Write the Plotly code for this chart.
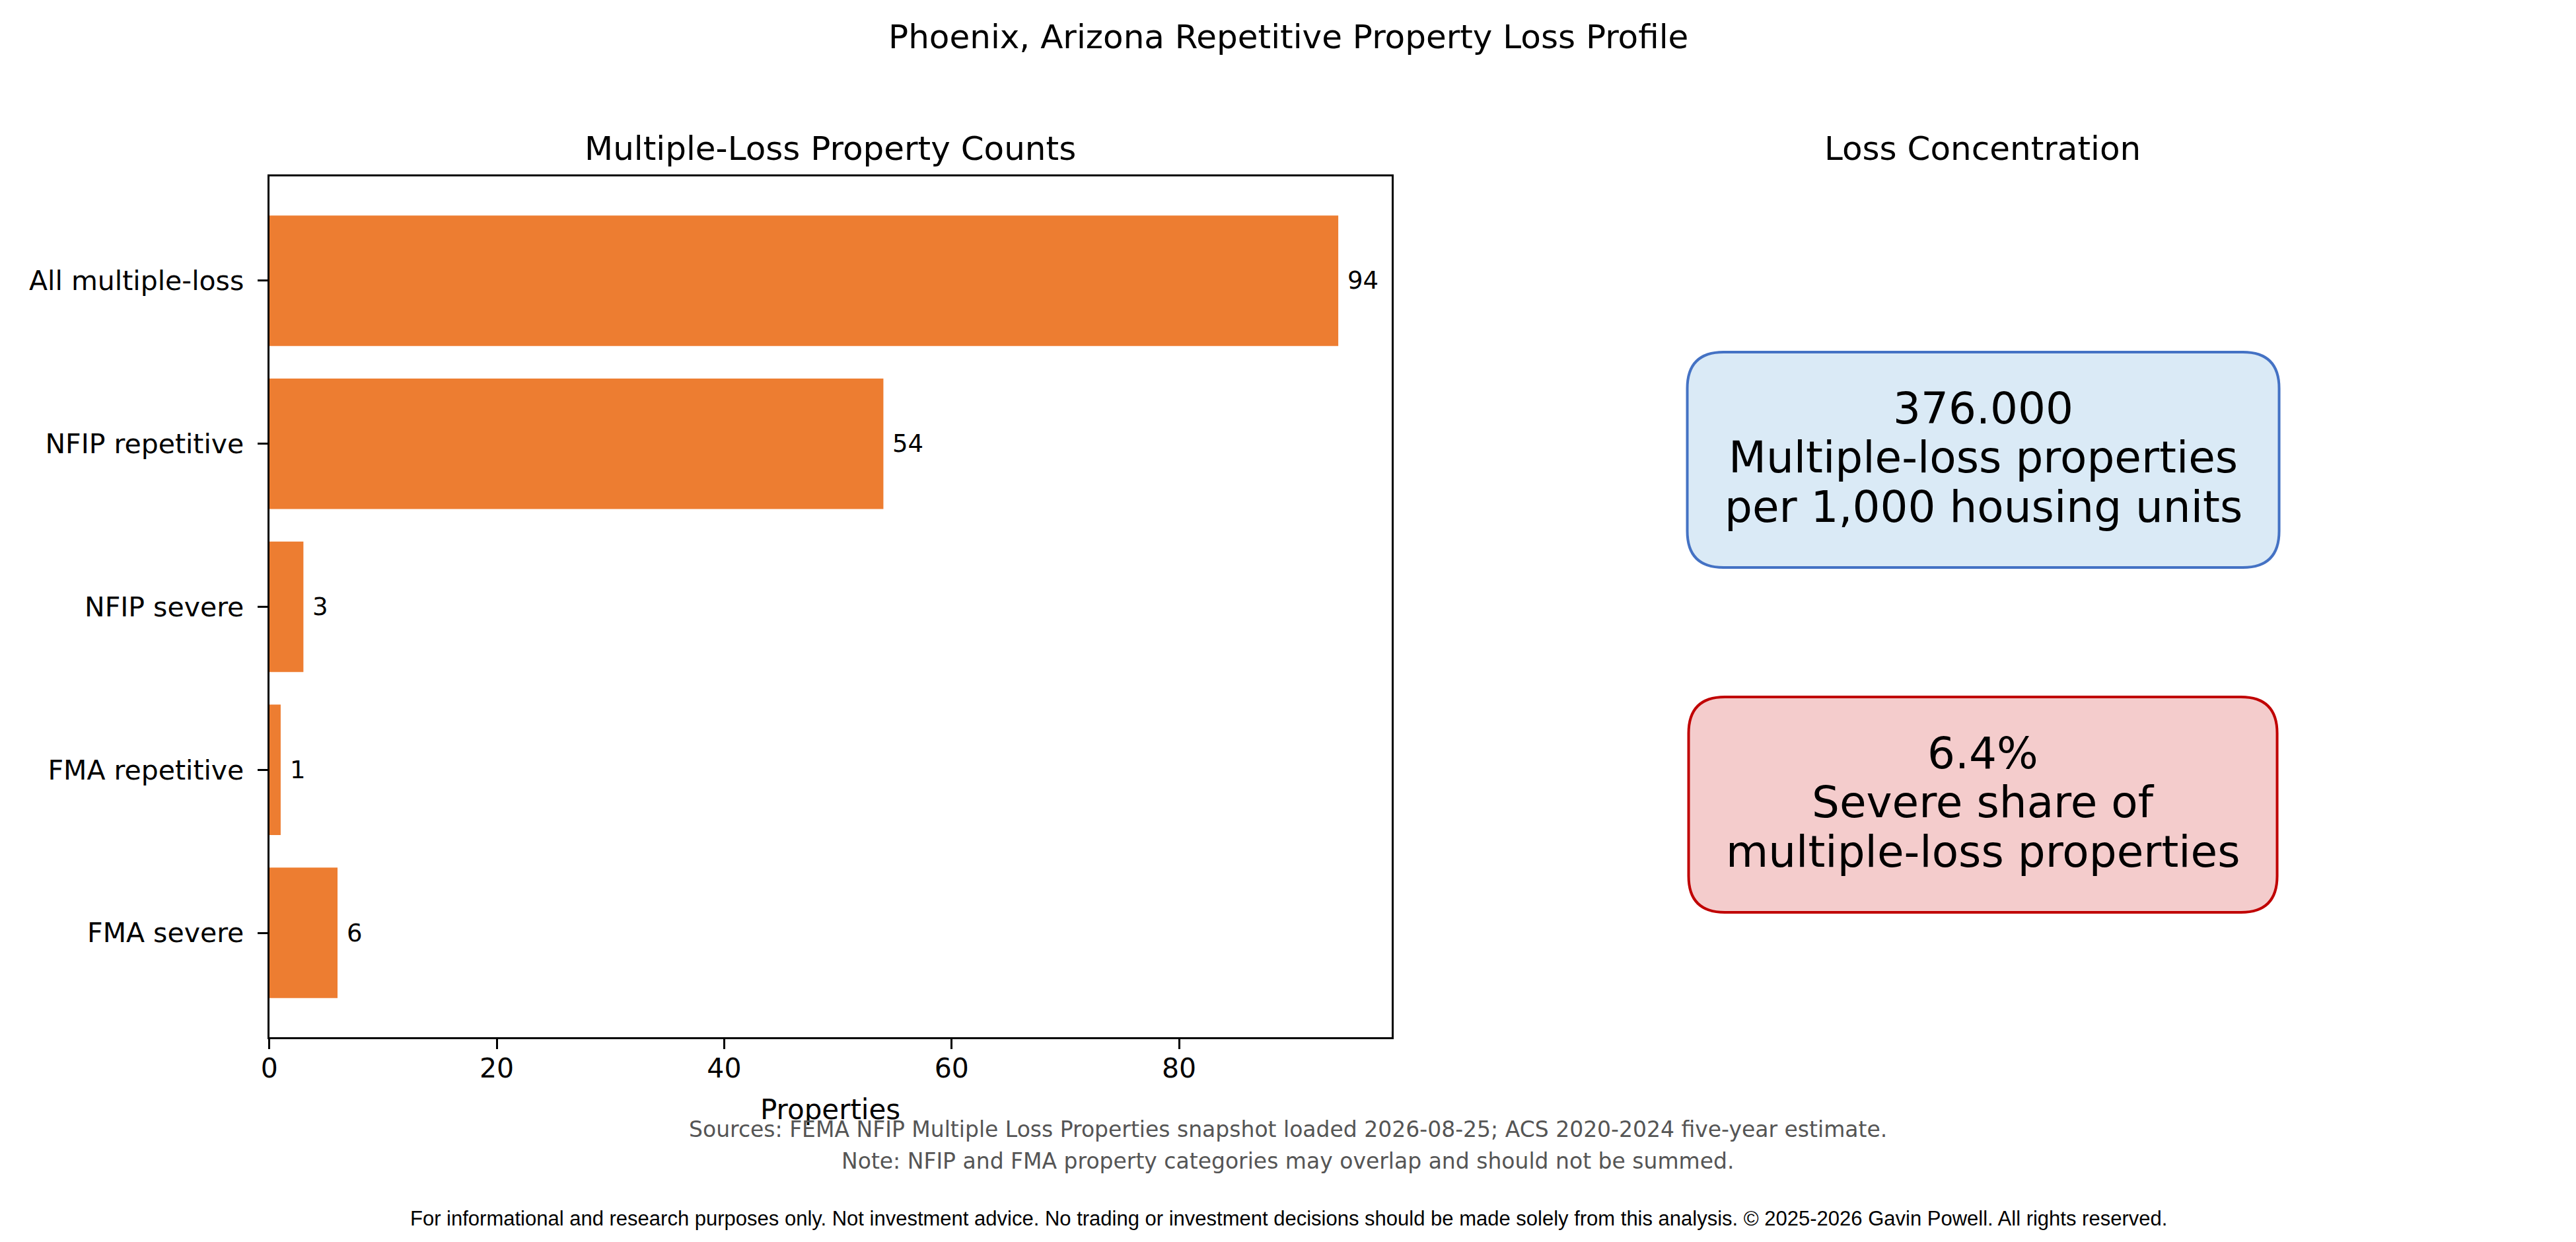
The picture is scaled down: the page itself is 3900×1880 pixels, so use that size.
import plotly.graph_objects as go

# ---- data ----
categories = ["All multiple-loss", "NFIP repetitive", "NFIP severe", "FMA repetitive", "FMA severe"]
counts = [94, 54, 3, 1, 6]
x_ticks = [0, 20, 40, 60, 80]
kpi_values = ["376.000", "6.4%"]
kpi_line1 = ["Multiple-loss properties", "Severe share of"]
kpi_line2 = ["per 1,000 housing units", "multiple-loss properties"]

W, H = 3900, 1880
FONT = "DejaVu Sans"
LW = 3.3

fig = go.Figure()
fig.add_trace(go.Bar(
    y=categories, x=counts, orientation="h",
    marker=dict(color="#ED7D31", line=dict(width=0)),
    width=0.8, showlegend=False, hoverinfo="skip",
))

# value labels
for c, v in zip(categories, counts):
    fig.add_annotation(x=v, y=c, xref="x", yref="y", text=str(v), showarrow=False,
                       xanchor="left", yanchor="middle", xshift=12,
                       font=dict(family=FONT, size=37, color="black"))

ax_x0, ax_x1 = 388, 2093
ax_top, ax_bot = 259, 1562
fig.update_layout(
    width=W, height=H, margin=dict(l=0, r=0, t=0, b=0),
    paper_bgcolor="white", plot_bgcolor="white",
    xaxis=dict(domain=[ax_x0 / W, ax_x1 / W], range=[0, max(counts) * 1.05],
               tickvals=x_ticks, ticktext=[str(t) for t in x_ticks],
               ticks="outside", ticklen=15, tickwidth=LW, tickcolor="black",
               showline=True, linecolor="black", linewidth=LW, mirror=True,
               showgrid=False, zeroline=False, ticklabelstandoff=-6,
               tickfont=dict(family=FONT, size=41, color="black")),
    yaxis=dict(domain=[1 - ax_bot / H, 1 - ax_top / H], range=[4.64, -0.64],
               type="category", categoryorder="array", categoryarray=categories,
               ticks="outside", ticklen=15, tickwidth=LW, tickcolor="black",
               showline=True, linecolor="black", linewidth=LW, mirror=True,
               showgrid=False, zeroline=False, ticklabelstandoff=12,
               tickfont=dict(family=FONT, size=41, color="black")),
)

def ann(text, xpx, ypx, size, color="black", family=FONT, xanchor="center"):
    fig.add_annotation(x=xpx / W, y=1 - ypx / H, xref="paper", yref="paper", text=text,
                       showarrow=False, xanchor=xanchor, yanchor="middle",
                       font=dict(family=family, size=size, color=color))

ann("Phoenix, Arizona Repetitive Property Loss Profile", 1936, 48, 50)
ann("Multiple-Loss Property Counts", 1240, 217, 50)
ann("Loss Concentration", 2990, 217, 50)
ann("Properties", 1240, 1671, 42)
ann("Sources: FEMA NFIP Multiple Loss Properties snapshot loaded 2026-08-25; ACS 2020-2024 five-year estimate.",
    1935, 1701, 33, color="#555555")
ann("Note: NFIP and FMA property categories may overlap and should not be summed.",
    1935, 1749, 33, color="#555555")
ann("For informational and research purposes only. Not investment advice. No trading or investment decisions should be made solely from this analysis. © 2025-2026 Gavin Powell. All rights reserved.",
    1936, 1836, 31, family="Liberation Sans")

# rounded KPI boxes
def rounded_path(x0, y0, x1, y1, r):
    def P(x, y):
        return f"{x / W:.6f},{1 - y / H:.6f}"
    return (f"M {P(x0 + r, y0)} L {P(x1 - r, y0)} Q {P(x1, y0)} {P(x1, y0 + r)} "
            f"L {P(x1, y1 - r)} Q {P(x1, y1)} {P(x1 - r, y1)} "
            f"L {P(x0 + r, y1)} Q {P(x0, y1)} {P(x0, y1 - r)} "
            f"L {P(x0, y0 + r)} Q {P(x0, y0)} {P(x0 + r, y0)} Z")

boxes = [
    dict(x0=2542, y0=525, x1=3441, y1=851, fill="#DAEAF6", edge="#4472C4", lines=[610, 684, 759]),
    dict(x0=2544, y0=1047, x1=3438, y1=1373, fill="#F4CCCC", edge="#C00000", lines=[1132, 1206, 1281]),
]
for b, val, l1, l2 in zip(boxes, kpi_values, kpi_line1, kpi_line2):
    fig.add_shape(type="path", xref="paper", yref="paper",
                  path=rounded_path(b["x0"], b["y0"], b["x1"], b["y1"], 55),
                  fillcolor=b["fill"], line=dict(color=b["edge"], width=4), layer="below")
    cx = (b["x0"] + b["x1"]) / 2
    for txt, yy in zip([val, l1, l2], b["lines"]):
        ann(txt, cx, yy, 66)

fig.write_html("out.html")
